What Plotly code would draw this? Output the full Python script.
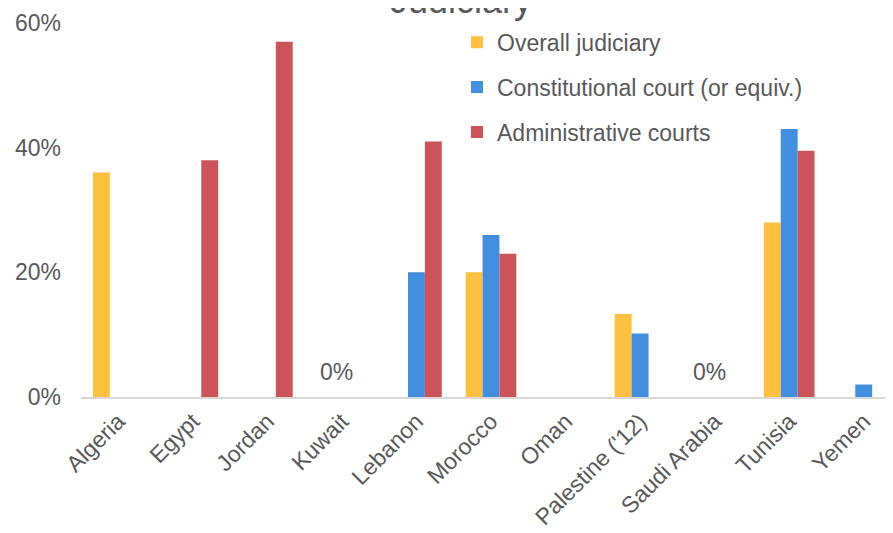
import plotly.graph_objects as go

categories = ["Algeria", "Egypt", "Jordan", "Kuwait", "Lebanon", "Morocco", "Oman",
              "Palestine ('12)", "Saudi Arabia", "Tunisia", "Yemen"]
overall_judiciary = [36, None, None, None, None, 20, None, 13.3, None, 28, None]
constitutional_court = [None, None, None, None, 20, 26, None, 10.2, None, 43, 2]
administrative_courts = [None, 38, 57, None, 41, 23, None, None, None, 39.5, None]
zero_label_categories = ["Kuwait", "Saudi Arabia"]
zero_label_text = "0%"
y_ticks = [0, 20, 40, 60]
y_tick_labels = ["0%", "20%", "40%", "60%"]

FONT = "Liberation Sans, Arial, sans-serif"
GREY = "#595959"

fig = go.Figure()
series = [
    ("Overall judiciary", overall_judiciary, "#FFC040"),
    ("Constitutional court (or equiv.)", constitutional_court, "#418FDE"),
    ("Administrative courts", administrative_courts, "#CD535B"),
]
for i, (name, vals, color) in enumerate(series):
    fig.add_trace(go.Bar(
        x=categories, y=vals, name=name, marker_color=color,
        marker_line_width=0, legendgroup=str(i),
    ))

for c in zero_label_categories:
    fig.add_annotation(x=c, y=4, text=zero_label_text, showarrow=False,
                       xshift=-5, font=dict(family=FONT, size=23, color=GREY))

fig.add_annotation(text="Judiciary", xref="paper", yref="paper",
                   x=(461 - 81) / 820, y=1.061, showarrow=False,
                   xanchor="center", yanchor="middle",
                   font=dict(family=FONT, size=36, color=GREY))

fig.update_layout(
    width=893, height=533,
    margin=dict(l=73, r=0, t=14.5, b=143.5, autoexpand=False),
    paper_bgcolor="white", plot_bgcolor="white",
    barmode="group", bargap=0.32, bargroupgap=0,
    font=dict(family=FONT, color=GREY, size=22),
    showlegend=True,
    legend=dict(x=(457 - 81) / 820, y=1.006, xanchor="left", yanchor="top",
                font=dict(family=FONT, size=23, color=GREY),
                bgcolor="rgba(0,0,0,0)", traceorder="grouped",
                tracegroupgap=12),
    xaxis=dict(range=[-0.5, 10.5], showline=True, linecolor="#D9D9D9",
               linewidth=1.5, showgrid=False, ticks="", tickangle=-45,
               automargin=False,
               tickfont=dict(family=FONT, size=23, color=GREY)),
    yaxis=dict(range=[0, 60], tickmode="array", tickvals=y_ticks,
               ticktext=y_tick_labels, showgrid=False, automargin=False,
               zeroline=False, showline=False, ticklabelstandoff=19,
               tickfont=dict(family=FONT, size=23, color=GREY)),
)

fig.write_html("out.html")
